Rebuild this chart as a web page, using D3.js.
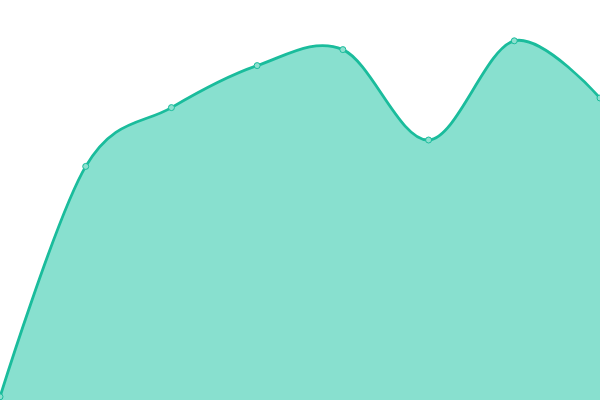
<!DOCTYPE html>
<html>
<head>
<meta charset="utf-8">
<script src="https://cdn.jsdelivr.net/npm/d3@7"></script>
<style>
  body { margin: 0; background: #fff; }
  svg { display: block; }
</style>
</head>
<body>
<svg id="chart"></svg>
<script>
const categories = [0, 1, 2, 3, 4, 5, 6, 7];
const values = [0.8, 58.4, 73.1, 83.6, 87.6, 65, 89.8, 75.5];

const width = 600, height = 400;
const svg = d3.select('#chart').attr('width', width).attr('height', height);

const x = d3.scaleLinear().domain([0, 7]).range([0, width]);
const y = d3.scaleLinear().domain([0, 100]).range([height, 0]);

const data = categories.map((c, i) => ({ c: c, v: values[i] }));

const area = d3.area()
    .curve(d3.curveCardinal)
    .x(d => x(d.c))
    .y0(y(0))
    .y1(d => y(d.v));

const line = d3.line()
    .curve(d3.curveCardinal)
    .x(d => x(d.c))
    .y(d => y(d.v));

svg.append('path')
    .datum(data)
    .attr('d', area)
    .attr('fill', '#88e0cf');

svg.append('path')
    .datum(data)
    .attr('d', line)
    .attr('fill', 'none')
    .attr('stroke', '#1abc9c')
    .attr('stroke-width', 2.8);

svg.selectAll('circle')
    .data(data)
    .enter()
    .append('circle')
        .attr('cx', d => x(d.c))
        .attr('cy', d => y(d.v))
        .attr('r', 3)
        .attr('fill', '#8de0cf')
        .attr('stroke', '#1abc9c')
        .attr('stroke-width', 1);
</script>
</body>
</html>
